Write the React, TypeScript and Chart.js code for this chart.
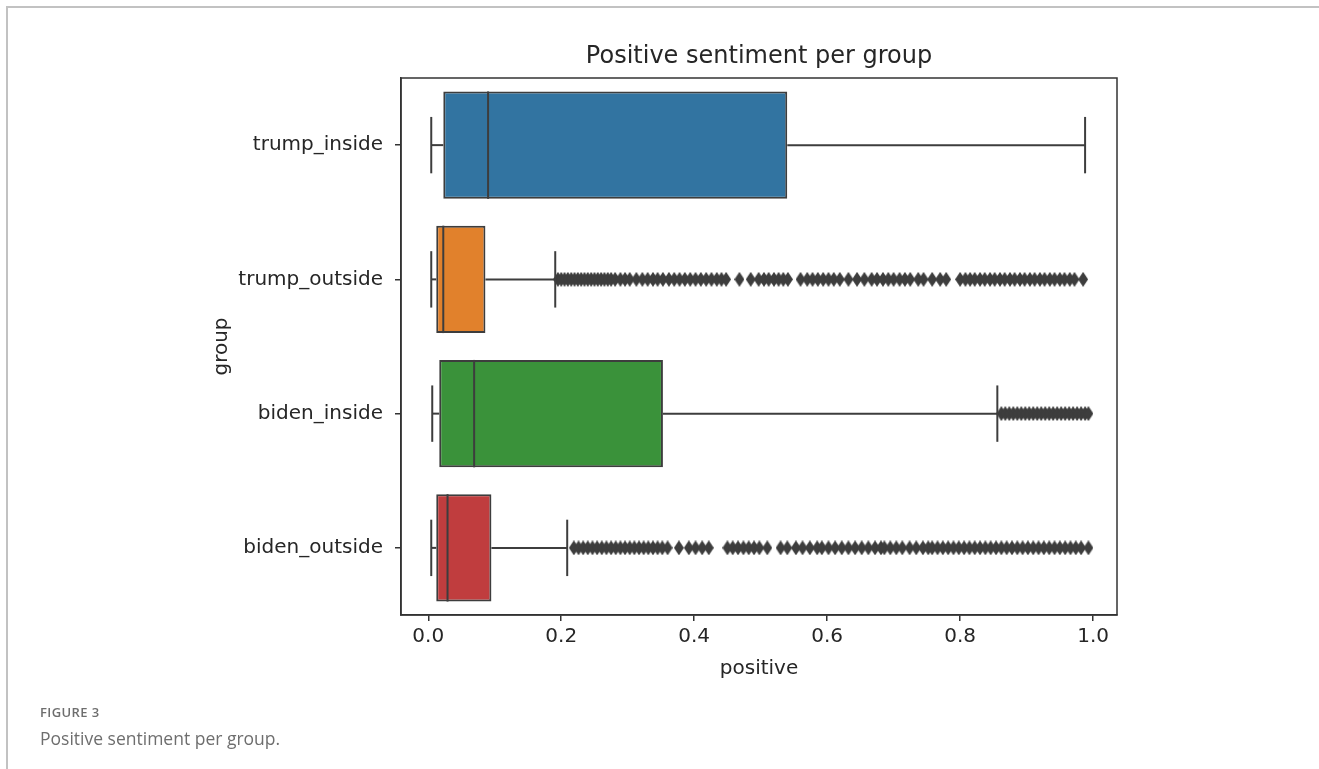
import React, { useEffect, useRef } from "react";
import { Chart, registerables } from "chart.js";

Chart.register(...registerables);

const chartTitle = "Positive sentiment per group";
const groups = ["trump_inside", "trump_outside", "biden_inside", "biden_outside"];
const boxColors = ["#3274a1", "#e1812c", "#3a923a", "#c03d3e"];
const whiskerLow = [0.0045, 0.0045, 0.006, 0.0045];
const q1 = [0.0226, 0.012, 0.0165, 0.012];
const medians = [0.09, 0.0226, 0.069, 0.029];
const q3 = [0.54, 0.086, 0.353, 0.095];
const whiskerHigh = [0.988, 0.191, 0.856, 0.209];
const xTicks = [0, 0.2, 0.4, 0.6, 0.8, 1.0];

const trumpOutsideOutliers = [
  0.195, 0.2, 0.205, 0.21, 0.215, 0.22, 0.225, 0.23, 0.235, 0.24, 0.245, 0.25, 0.255, 0.26, 0.265, 0.27, 0.275, 0.281,
  0.289, 0.296, 0.303, 0.313,
  0.322, 0.33, 0.338, 0.345, 0.353,
  0.362, 0.37, 0.378, 0.386, 0.394, 0.402, 0.41, 0.418, 0.426, 0.434, 0.441, 0.448,
  0.468, 0.485,
  0.497, 0.505, 0.512, 0.52, 0.527, 0.534, 0.541,
  0.56, 0.57, 0.578, 0.586, 0.594, 0.602, 0.61, 0.619,
  0.632, 0.645, 0.656,
  0.667, 0.675, 0.684, 0.692, 0.7, 0.709, 0.717, 0.725, 0.737,
  0.745, 0.758, 0.77, 0.779,
  0.8, 0.808, 0.815, 0.822, 0.83, 0.837, 0.845, 0.852, 0.86, 0.867, 0.875, 0.882, 0.89, 0.897, 0.905, 0.912, 0.92,
  0.927, 0.935, 0.942, 0.95, 0.957, 0.965, 0.972, 0.985,
];
const bidenInsideOutliers = [
  0.862, 0.868, 0.874, 0.88, 0.886, 0.892, 0.898, 0.904, 0.91, 0.916, 0.922, 0.928, 0.934, 0.94, 0.946, 0.952,
  0.958, 0.964, 0.97, 0.976, 0.982, 0.988, 0.993,
];
const bidenOutsideOutliers = [
  0.219, 0.226, 0.233, 0.24, 0.247, 0.254, 0.261, 0.268, 0.275, 0.282, 0.289, 0.296, 0.303, 0.31, 0.317, 0.324,
  0.331, 0.338, 0.345, 0.352, 0.36,
  0.377, 0.392,
  0.402, 0.412, 0.422,
  0.45, 0.458, 0.466, 0.474, 0.482, 0.49, 0.498, 0.51,
  0.53, 0.54, 0.553,
  0.563, 0.574, 0.585,
  0.592, 0.602, 0.612, 0.622, 0.632,
  0.642, 0.652, 0.662, 0.672, 0.681,
  0.686, 0.695, 0.704, 0.713,
  0.724, 0.734, 0.744, 0.752,
  0.758, 0.766, 0.774, 0.782, 0.79, 0.798, 0.806, 0.814, 0.822, 0.83, 0.838, 0.846, 0.854, 0.862, 0.87, 0.878,
  0.886, 0.894, 0.902, 0.91, 0.918, 0.926, 0.934, 0.942, 0.95, 0.958, 0.966, 0.974, 0.982, 0.993,
];

const LINE = "#3d3d3d";
const TEXT = "#262626";
const FONT = "'DejaVu Sans', sans-serif";

function makeDiamond(): HTMLCanvasElement {
  const c = document.createElement("canvas");
  c.width = 10;
  c.height = 15;
  const g = c.getContext("2d")!;
  g.fillStyle = LINE;
  g.beginPath();
  g.moveTo(5, 0);
  g.lineTo(10, 7.5);
  g.lineTo(5, 15);
  g.lineTo(0, 7.5);
  g.closePath();
  g.fill();
  return c;
}

const boxExtras = {
  id: "boxExtras",
  afterDatasetsDraw(chart: any) {
    const { ctx, chartArea } = chart;
    const x = chart.scales.x;
    const y = chart.scales.y;
    const step = Math.abs(y.getPixelForValue(1) - y.getPixelForValue(0));
    const half = step * 0.4;
    const capHalf = step * 0.21;
    ctx.save();
    ctx.strokeStyle = LINE;
    ctx.lineWidth = 2;
    const seg = (x1: number, y1: number, x2: number, y2: number) => {
      ctx.beginPath();
      ctx.moveTo(x1, y1);
      ctx.lineTo(x2, y2);
      ctx.stroke();
    };
    groups.forEach((_, i) => {
      const cy = y.getPixelForValue(i);
      const xm = x.getPixelForValue(medians[i]);
      seg(xm, cy - half, xm, cy + half);
      const xl = x.getPixelForValue(whiskerLow[i]);
      const xh = x.getPixelForValue(whiskerHigh[i]);
      seg(xl, cy, x.getPixelForValue(q1[i]), cy);
      seg(x.getPixelForValue(q3[i]), cy, xh, cy);
      seg(xl, cy - capHalf, xl, cy + capHalf);
      seg(xh, cy - capHalf, xh, cy + capHalf);
    });
    ctx.lineWidth = 1.5;
    ctx.strokeStyle = "#333333";
    ctx.strokeRect(chartArea.left, chartArea.top, chartArea.right - chartArea.left, chartArea.bottom - chartArea.top);
    // title centred over the plot area, as matplotlib does
    ctx.fillStyle = TEXT;
    ctx.font = `24px ${FONT}`;
    ctx.textAlign = "center";
    ctx.textBaseline = "middle";
    ctx.fillText(chartTitle, (chartArea.left + chartArea.right) / 2, chartArea.top - 21);
    ctx.restore();
  },
};

export default function App() {
  const ref = useRef<HTMLCanvasElement | null>(null);
  useEffect(() => {
    if (!ref.current) return;
    const diamond = makeDiamond();
    const outliers = [
      ...trumpOutsideOutliers.map((v) => ({ x: v, y: groups[1] })),
      ...bidenInsideOutliers.map((v) => ({ x: v, y: groups[2] })),
      ...bidenOutsideOutliers.map((v) => ({ x: v, y: groups[3] })),
    ];
    const chart = new Chart(ref.current, {
      type: "bar",
      data: {
        labels: groups,
        datasets: [
          {
            type: "bar",
            indexAxis: "y",
            data: groups.map((_, i) => [q1[i], q3[i]]),
            backgroundColor: boxColors,
            borderColor: LINE,
            borderWidth: 2,
            borderSkipped: false,
            barPercentage: 0.8,
            categoryPercentage: 1,
            order: 2,
          } as any,
          {
            type: "scatter",
            data: outliers,
            pointStyle: diamond,
            pointRadius: 5,
            backgroundColor: LINE,
            borderColor: LINE,
            order: 1,
          } as any,
        ],
      },
      options: {
        responsive: false,
        animation: false,
        layout: { padding: { left: 206, right: 202, top: 78, bottom: 84 } },
        plugins: {
          legend: { display: false },
          tooltip: { enabled: false },
          title: { display: false },
        },
        scales: {
          x: {
            type: "linear",
            min: -0.041,
            max: 1.036,
            offset: false,
            afterBuildTicks: (s: any) => {
              s.ticks = xTicks.map((v) => ({ value: v }));
            },
            afterFit: (s: any) => {
              s.height = 70;
            },
            ticks: {
              color: TEXT,
              font: { family: FONT, size: 20 },
              padding: 4,
              autoSkip: false,
              maxRotation: 0,
              callback: (v: any) => Number(v).toFixed(1),
            },
            grid: {
              offset: false,
              drawOnChartArea: false,
              drawTicks: true,
              tickLength: 6,
              color: "#333333",
              lineWidth: 1.5,
            },
            border: { display: true, color: "#333333", width: 1.5 },
            title: {
              display: true,
              text: "positive",
              color: TEXT,
              font: { family: FONT, size: 20 },
              padding: { top: 0, bottom: 4 },
            },
          },
          y: {
            type: "category",
            offset: true,
            afterFit: (s: any) => {
              s.width = 195;
            },
            ticks: { color: TEXT, font: { family: FONT, size: 20 }, padding: 12 },
            grid: {
              offset: false,
              drawOnChartArea: false,
              drawTicks: true,
              tickLength: 6,
              color: "#333333",
              lineWidth: 1.5,
            },
            border: { display: true, color: "#333333", width: 1.5 },
            title: {
              display: true,
              text: "group",
              color: TEXT,
              font: { family: FONT, size: 20 },
              padding: { top: 4, bottom: 4 },
            },
          },
        },
      } as any,
      plugins: [boxExtras],
    });
    return () => chart.destroy();
  }, []);

  return (
    <div style={{ position: "absolute", left: 0, top: 0, width: 1319, height: 769, overflow: "hidden", background: "#fff" }}>
      <div
        style={{
          position: "absolute",
          left: 6,
          top: 6,
          width: 1319,
          height: 800,
          borderTop: "2px solid #c2c2c2",
          borderLeft: "2px solid #c2c2c2",
        }}
      />
      <canvas ref={ref} width={1319} height={769} style={{ position: "absolute", left: 0, top: 0, width: 1319, height: 769 }} />
      <div
        style={{
          position: "absolute",
          left: 40,
          top: 703,
          fontFamily: "'Open Sans', sans-serif",
          fontSize: 13,
          fontWeight: 600,
          color: "#6e6e6e",
          letterSpacing: 0.4,
        }}
      >
        FIGURE 3
      </div>
      <div
        style={{
          position: "absolute",
          left: 40,
          top: 726,
          fontFamily: "'Open Sans', sans-serif",
          fontSize: 17.5,
          color: "#6e6e6e",
        }}
      >
        Positive sentiment per group.
      </div>
    </div>
  );
}
